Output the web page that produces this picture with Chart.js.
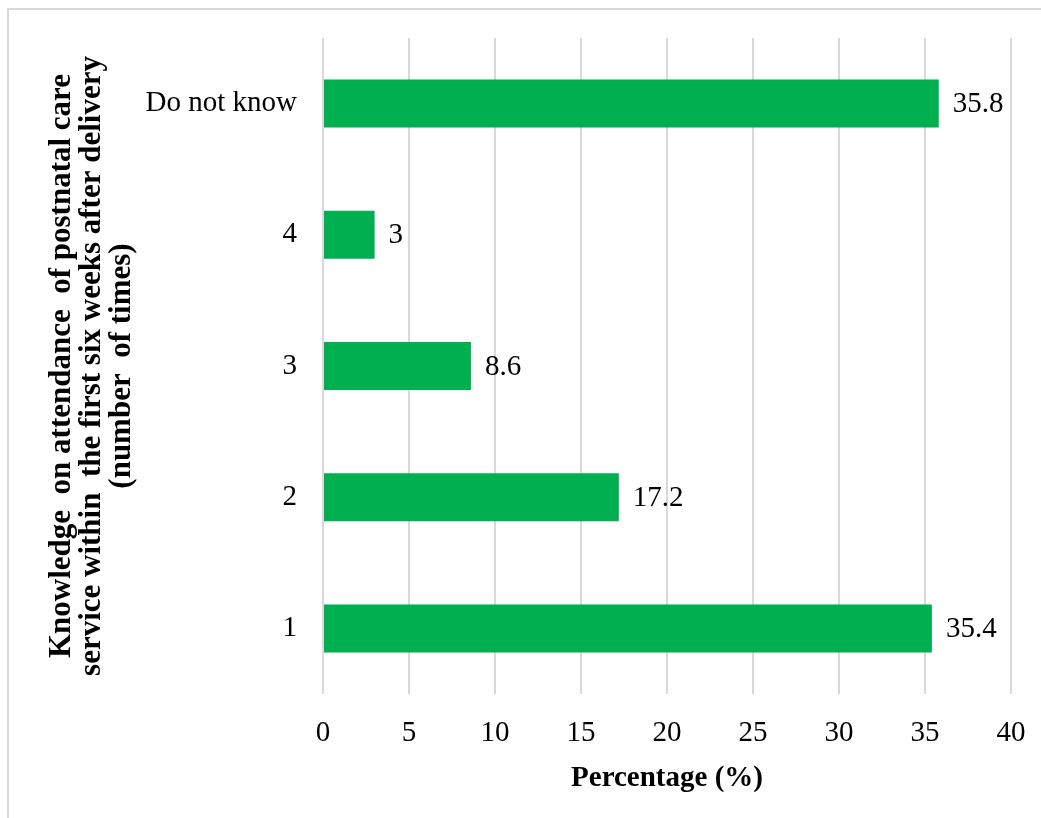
<!DOCTYPE html>
<html>
<head>
<meta charset="utf-8">
<script src="https://cdn.jsdelivr.net/npm/chart.js@4.4.0/dist/chart.umd.min.js"></script>
<style>
  html, body { margin: 0; padding: 0; background: #fff; }
  canvas { display: block; }
</style>
</head>
<body>
<canvas id="grafica" width="1041" height="818"></canvas>
<script>
// categories top -> bottom, as in the picture
const categorias = ["Do not know", "4", "3", "2", "1"];
const porcentajes = [35.8, 3, 8.6, 17.2, 35.4];
const tituloY = [
  "Knowledge  on attendance  of postnatal care",
  "service within  the first six weeks after delivery",
  "(number  of times)"
];
const tituloX = "Percentage (%)";

const fuente = '"Liberation Serif", "Times New Roman", serif';
const verde = "#00B050";
const gris = "#d9d9d9";

// white background + light frame at the top/left edge
const fondo = {
  id: "fondo",
  beforeDraw(chart) {
    const { ctx, width, height } = chart;
    ctx.save();
    ctx.fillStyle = "#fff";
    ctx.fillRect(0, 0, width, height);
    ctx.strokeStyle = gris;
    ctx.lineWidth = 2;
    ctx.strokeRect(8, 9, width + 10, height + 10);
    ctx.restore();
  }
};

// value labels at the end of each bar
const etiquetas = {
  id: "etiquetas",
  afterDatasetsDraw(chart) {
    const { ctx } = chart;
    const meta = chart.getDatasetMeta(0);
    ctx.save();
    ctx.font = "29px " + fuente;
    ctx.fillStyle = "#000";
    ctx.textAlign = "left";
    ctx.textBaseline = "middle";
    meta.data.forEach((bar, i) => {
      ctx.fillText(String(porcentajes[i]), bar.x + 14, bar.y + 1);
    });
    ctx.restore();
  }
};

new Chart(document.getElementById("grafica"), {
  type: "bar",
  data: {
    labels: categorias,
    datasets: [{
      data: porcentajes,
      backgroundColor: verde,
      borderWidth: 0,
      barPercentage: 0.366,
      categoryPercentage: 1
    }]
  },
  options: {
    indexAxis: "y",
    responsive: false,
    animation: false,
    layout: { padding: { top: 38, right: 30, left: 0, bottom: 0 } },
    plugins: {
      legend: { display: false },
      tooltip: { enabled: false }
    },
    scales: {
      x: {
        min: 0,
        max: 40,
        ticks: { stepSize: 5, color: "#000", padding: 22, font: { family: fuente, size: 29 } },
        grid: { color: gris, lineWidth: 2, drawTicks: false },
        border: { display: false },
        title: {
          display: true,
          text: tituloX,
          color: "#000",
          padding: { top: 0, bottom: 24 },
          font: { family: fuente, size: 29, weight: "bold", lineHeight: 1.1 }
        },
        afterFit(scale) {
          scale.height = 124;
          scale.paddingLeft = 0;
          scale.paddingRight = 0;
        }
      },
      y: {
        ticks: { color: "#000", padding: 26, font: { family: fuente, size: 29 } },
        grid: { display: false, drawTicks: false },
        border: { display: false },
        title: {
          display: true,
          text: tituloY,
          color: "#000",
          padding: { top: 47, bottom: 0 },
          font: { family: fuente, size: 31, weight: "bold", lineHeight: 0.97 }
        },
        afterFit(scale) {
          scale.width = 323;
          scale.paddingTop = 0;
          scale.paddingBottom = 0;
        }
      }
    }
  },
  plugins: [fondo, etiquetas]
});
</script>
</body>
</html>
